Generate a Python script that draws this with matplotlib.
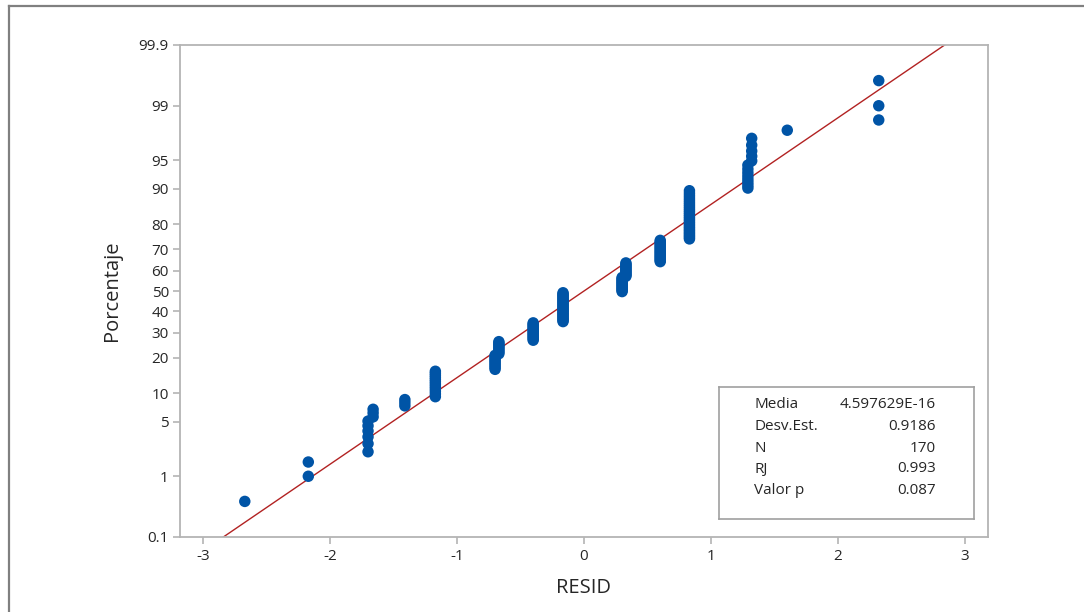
from statistics import NormalDist
import numpy as np
import matplotlib.pyplot as plt
from matplotlib.lines import Line2D

plt.rcParams['font.family'] = ['Open Sans', 'DejaVu Sans']

# residual values (clusters) and how many points sit on each
resid_values = [-2.67, -2.17, -1.70, -1.66, -1.41, -1.17, -0.70, -0.67, -0.40,
                -0.165, 0.30, 0.33, 0.60, 0.83, 1.29, 1.32, 1.60, 2.32]
resid_counts = [1, 2, 6, 3, 3, 12, 9, 9, 14, 25, 13, 12, 17, 27, 8, 5, 1, 3]

# summary from the stats box
media = 4.597629e-16
desv_est = 0.9186
stat_labels = ['Media', 'Desv.Est.', 'N', 'RJ', 'Valor p']
stat_values = ['4.597629E-16', '0.9186', '170', '0.993', '0.087']

pct_ticks = [0.1, 1, 5, 10, 20, 30, 40, 50, 60, 70, 80, 90, 95, 99, 99.9]
pct_labels = ['0.1', '1', '5', '10', '20', '30', '40', '50', '60', '70', '80',
              '90', '95', '99', '99.9']
x_ticks = [-3, -2, -1, 0, 1, 2, 3]

nd = NormalDist()

def z_of(p):
    return nd.inv_cdf(p / 100.0)

# sorted residuals and median-rank plotting positions
resid = np.repeat(resid_values, resid_counts)
n = len(resid)
ranks = np.arange(1, n + 1)
prob = (ranks - 0.3) / (n + 0.4)
zpos = np.array([nd.inv_cdf(p) for p in prob])

fig = plt.figure(figsize=(10.84, 6.12), dpi=100)
ax = fig.add_axes([180 / 1084, 1 - 537 / 612, 808 / 1084, 492 / 612])

zlo, zhi = z_of(0.1), z_of(99.9)

# fitted normal line
xl = media + desv_est * np.array([zlo, zhi])
ax.plot(xl, [zlo, zhi], color='#b22222', lw=1.0, zorder=2)

ax.scatter(resid, zpos, s=68, color='#0054a6', edgecolors='none', zorder=3)

ax.set_xlim(-3.18, 3.18)
ax.set_ylim(zlo, zhi)
ax.set_yticks([z_of(p) for p in pct_ticks])
ax.set_yticklabels(pct_labels)
ax.set_xticks(x_ticks)
ax.set_xticklabels([str(v) for v in x_ticks])

for s in ax.spines.values():
    s.set_color('#b4b4b4')
    s.set_linewidth(1.3)
ax.tick_params(axis='both', colors='#b4b4b4', labelcolor='#262626',
               labelsize=11, length=5, width=1.2)
ax.tick_params(axis='y', pad=3)
ax.tick_params(axis='x', pad=4)

ax.set_xlabel('RESID', fontsize=14.5, color='#262626', labelpad=10)
ax.set_ylabel('Porcentaje', fontsize=14.5, color='#262626', labelpad=12)

# stats box
bx0, by0, bx1, by1 = 719, 387, 974, 519
ax_box = fig.add_axes([bx0 / 1084, 1 - by1 / 612, (bx1 - bx0) / 1084, (by1 - by0) / 612])
ax_box.set_xticks([])
ax_box.set_yticks([])
ax_box.set_xlim(bx0, bx1)
ax_box.set_ylim(by1, by0)
for s in ax_box.spines.values():
    s.set_color('#a0a0a0')
    s.set_linewidth(1.2)
row_y = [405, 427, 449, 469, 491]
for lab, val, yy in zip(stat_labels, stat_values, row_y):
    ax_box.text(754, yy, lab, fontsize=11, color='#262626', va='center', ha='left')
    ax_box.text(936, yy, val, fontsize=11, color='#262626', va='center', ha='right')

# outer frame (top and left edges visible)
fig.add_artist(Line2D([9 / 1084, 9 / 1084], [0, 1 - 6 / 612], color='#808080', lw=1.6,
                      transform=fig.transFigure))
fig.add_artist(Line2D([9 / 1084, 1], [1 - 6 / 612, 1 - 6 / 612], color='#808080', lw=1.6,
                      transform=fig.transFigure))

fig.savefig('out.png', dpi=100)
